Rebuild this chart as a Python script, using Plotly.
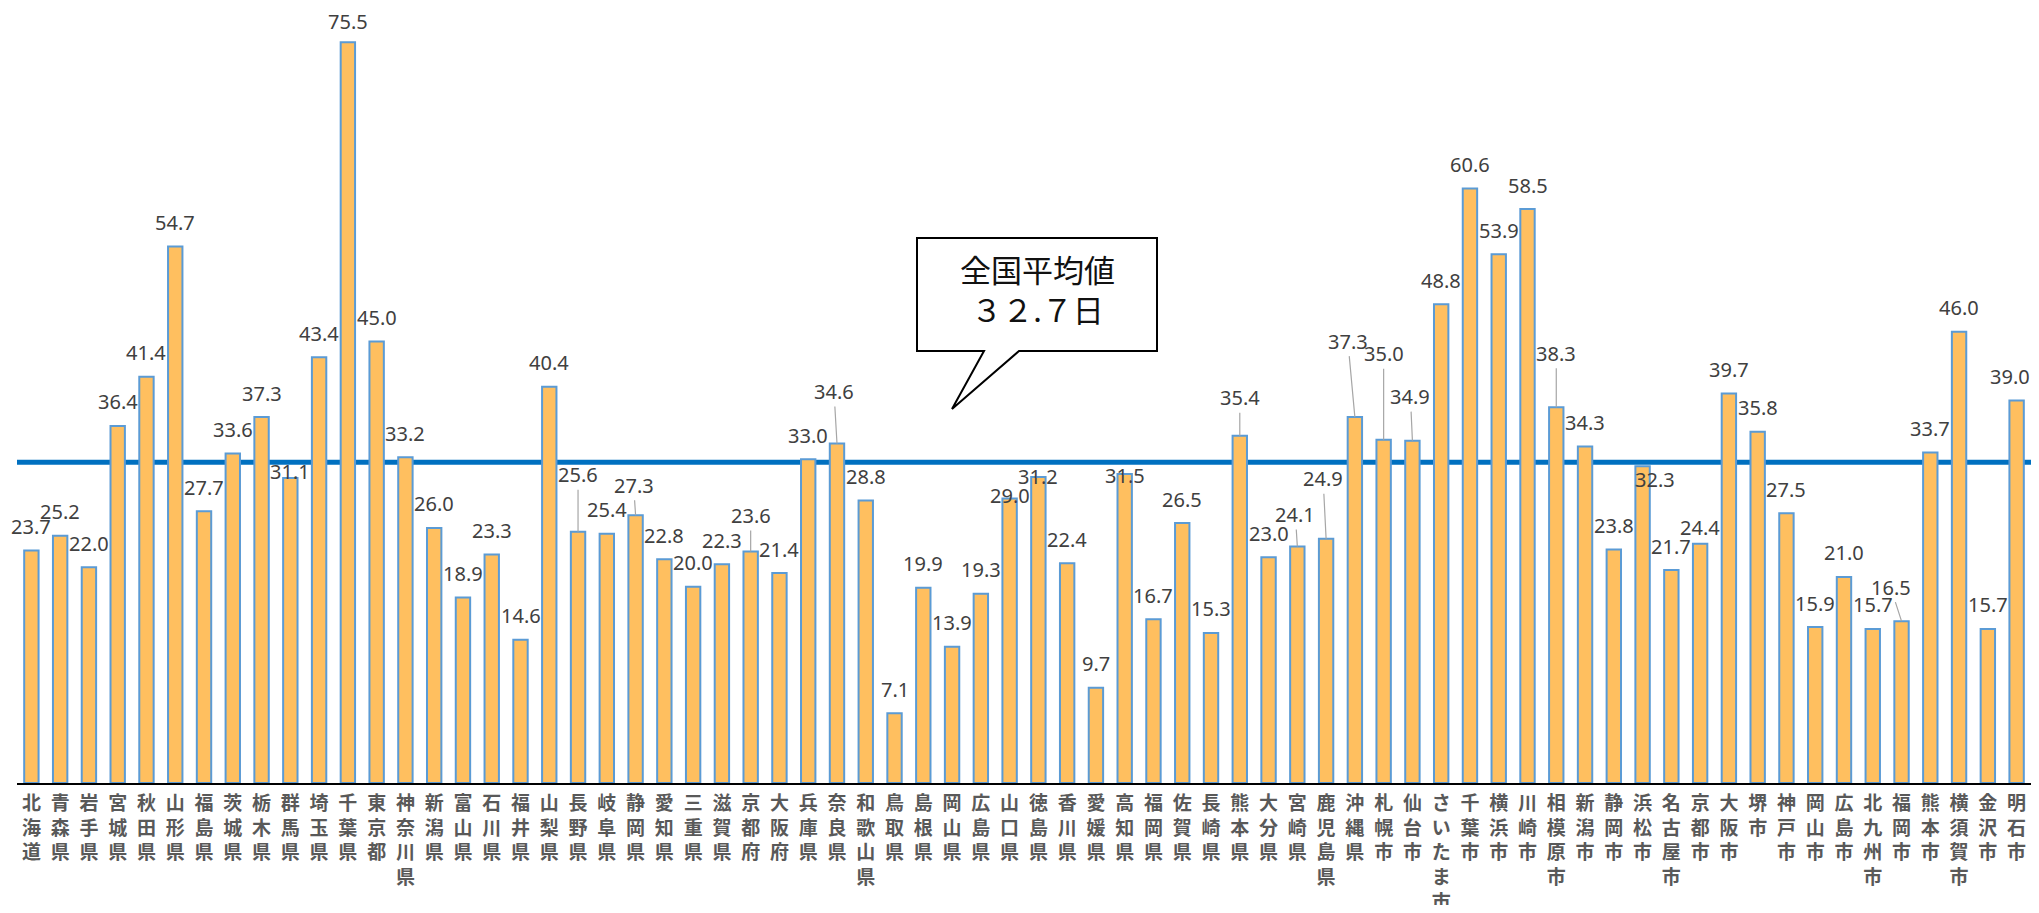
import plotly.graph_objects as go

categories = [
    "北海道", "青森県", "岩手県", "宮城県", "秋田県", "山形県", "福島県", "茨城県", "栃木県", "群馬県",
    "埼玉県", "千葉県", "東京都", "神奈川県", "新潟県", "富山県", "石川県", "福井県", "山梨県", "長野県",
    "岐阜県", "静岡県", "愛知県", "三重県", "滋賀県", "京都府", "大阪府", "兵庫県", "奈良県", "和歌山県",
    "鳥取県", "島根県", "岡山県", "広島県", "山口県", "徳島県", "香川県", "愛媛県", "高知県", "福岡県",
    "佐賀県", "長崎県", "熊本県", "大分県", "宮崎県", "鹿児島県", "沖縄県",
    "札幌市", "仙台市", "さいたま市", "千葉市", "横浜市", "川崎市", "相模原市", "新潟市", "静岡市", "浜松市",
    "名古屋市", "京都市", "大阪市", "堺市", "神戸市", "岡山市", "広島市", "北九州市", "福岡市", "熊本市",
    "横須賀市", "金沢市", "明石市",
]

values = [
    23.7, 25.2, 22.0, 36.4, 41.4, 54.7, 27.7, 33.6, 37.3, 31.1,
    43.4, 75.5, 45.0, 33.2, 26.0, 18.9, 23.3, 14.6, 40.4, 25.6,
    25.4, 27.3, 22.8, 20.0, 22.3, 23.6, 21.4, 33.0, 34.6, 28.8,
    7.1, 19.9, 13.9, 19.3, 29.0, 31.2, 22.4, 9.7, 31.5, 16.7,
    26.5, 15.3, 35.4, 23.0, 24.1, 24.9, 37.3,
    35.0, 34.9, 48.8, 60.6, 53.9, 58.5, 38.3, 34.3, 23.8, 32.3,
    21.7, 24.4, 39.7, 35.8, 27.5, 15.9, 21.0, 15.7, 16.5, 33.7,
    46.0, 15.7, 39.0,
]

national_average = 32.7
callout_lines = ["全国平均値", "３２.７日"]

# ---- layout / style (pixels, figure coordinates; page body adds 8px offset) ----
W, H = 2023, 897
ML, MR, MT, MB = 9, 0, 0, 122
PW, PH = W - ML - MR, H - MT - MB

# label offsets: (dx, dy, leader line) relative to bar top, text centre
DEFAULT_OFFSET = (0, -24, False)
label_offsets = {
    "群馬県": (0, -6, False),
    "千葉県": (0, -21, False),
    "長野県": (0, -57, True),
    "静岡県": (-2, -30, True),
    "京都府": (0, -36, True),
    "奈良県": (-3, -52, True),
    "山口県": (0, -3, False),
    "徳島県": (0, 0, False),
    "高知県": (0, 2, False),
    "熊本県": (0, -38, True),
    "宮崎県": (-2, -32, True),
    "鹿児島県": (-3, -60, True),
    "沖縄県": (-7, -76, True),
    "札幌市": (0, -86, True),
    "仙台市": (-2, -44, True),
    "相模原市": (0, -54, True),
    "浜松市": (12, 13, False),
    "京都市": (0, -16, False),
    "福岡市": (-11, -34, True),
    "明石市": (-7, -24, False),
}

tick_text = ["<br>".join(list(c)) for c in categories]

fig = go.Figure()
fig.add_trace(go.Bar(
    x=categories,
    y=values,
    width=0.5,
    marker=dict(color="#FFBF5F", line=dict(color="#5B9BD5", width=2)),
    hoverinfo="x+y",
))

label_font = dict(family="Noto Sans, Open Sans, sans-serif", size=20, color="#404040")
annotations = []
for c, v in zip(categories, values):
    dx, dy, leader = label_offsets.get(c, DEFAULT_OFFSET)
    txt = f"{v:.1f}"
    if leader:
        annotations.append(dict(
            x=c, y=v, xref="x", yref="y", text=txt, font=label_font,
            showarrow=True, arrowhead=0, arrowwidth=1.2, arrowcolor="#A6A6A6",
            ax=dx, ay=dy, standoff=0, startstandoff=0,
        ))
    else:
        annotations.append(dict(
            x=c, y=v, xref="x", yref="y", text=txt, font=label_font,
            showarrow=False, xanchor="center", yanchor="middle",
            xshift=dx, yshift=-dy,
        ))

def px(xp):
    return (xp - ML) / PW

def py(yp):
    return (H - MB - yp) / PH

# callout box geometry (figure pixels)
bx0, bx1, by0, by1 = 909, 1149, 230, 343
tail_a, tail_b, tip = 976, 1011, (944, 401)
path = (
    f"M {px(bx0)},{py(by0)} L {px(bx1)},{py(by0)} L {px(bx1)},{py(by1)} "
    f"L {px(tail_b)},{py(by1)} L {px(tip[0])},{py(tip[1])} L {px(tail_a)},{py(by1)} "
    f"L {px(bx0)},{py(by1)} Z"
)

shapes = [
    dict(type="line", xref="paper", yref="y", x0=0, x1=1,
         y0=national_average, y1=national_average,
         line=dict(color="#0070C0", width=5), layer="below"),
    dict(type="path", xref="paper", yref="paper", path=path,
         fillcolor="white", line=dict(color="#000000", width=2), layer="above"),
]

annotations.append(dict(
    x=px((bx0 + bx1) / 2), y=py((by0 + by1) / 2 - 6), xref="paper", yref="paper",
    text="<br>".join(callout_lines), showarrow=False,
    font=dict(family="Noto Sans CJK JP", size=31, color="#111111"),
    xanchor="center", yanchor="middle", align="center",
))

fig.update_layout(
    width=W, height=H,
    margin=dict(l=ML, r=MR, t=MT, b=MB, autoexpand=False),
    paper_bgcolor="white", plot_bgcolor="white",
    showlegend=False,
    shapes=shapes,
    annotations=annotations,
    xaxis=dict(
        tickmode="array", tickvals=categories, ticktext=tick_text,
        tickangle=0, showline=True, linecolor="#000000", linewidth=2,
        showgrid=False, ticks="", ticklabelstandoff=2, automargin=False,
        tickfont=dict(family="Noto Sans CJK JP", size=19, color="#595959", weight="bold"),
        range=[-0.5, len(categories) - 0.5],
    ),
    yaxis=dict(range=[0, 79.0], visible=False, showgrid=False, zeroline=False,
               automargin=False),
)

fig.write_html("out.html")
